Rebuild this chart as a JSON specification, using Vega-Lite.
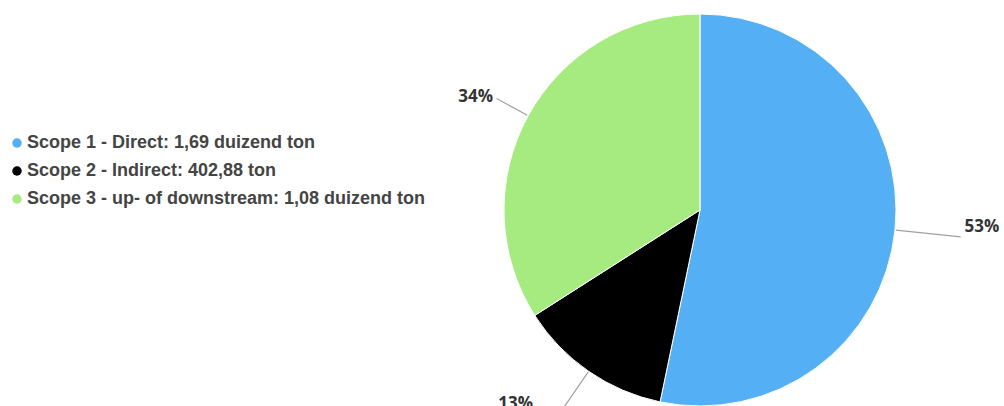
{
  "$schema": "https://vega.github.io/schema/vega-lite/v6.json",
  "width": 608,
  "height": 392,
  "autosize": {"type": "none"},
  "padding": {"left": 396, "top": 14, "right": 0, "bottom": 0},
  "background": "white",
  "config": {"view": {"stroke": null}},
  "data": {
    "values": [
      {"idx": 1, "scope": "Scope 1 - Direct: 1,69 duizend ton", "value": 1690, "pct": "53%"},
      {"idx": 2, "scope": "Scope 2 - Indirect: 402,88 ton", "value": 402.88, "pct": "13%"},
      {"idx": 3, "scope": "Scope 3 - up- of downstream: 1,08 duizend ton", "value": 1080, "pct": "34%"}
    ]
  },
  "layer": [
    {
      "mark": {"type": "arc", "stroke": "white", "strokeWidth": 1},
      "encoding": {
        "theta": {"field": "value", "type": "quantitative", "stack": true},
        "order": {"field": "idx", "type": "quantitative"},
        "color": {
          "field": "scope",
          "type": "nominal",
          "scale": {
            "domain": [
              "Scope 1 - Direct: 1,69 duizend ton",
              "Scope 2 - Indirect: 402,88 ton",
              "Scope 3 - up- of downstream: 1,08 duizend ton"
            ],
            "range": ["#55aff5", "#000000", "#a5eb80"]
          },
          "legend": {
            "orient": "none",
            "legendX": -388,
            "legendY": 120,
            "title": null,
            "padding": 0,
            "labelFont": "Liberation Sans",
            "labelFontSize": 18,
            "labelFontWeight": "bold",
            "labelColor": "#444444",
            "labelLimit": 600,
            "labelOffset": 1,
            "symbolType": "circle",
            "symbolSize": 90,
            "symbolStrokeWidth": 0,
            "rowPadding": 10,
            "encode": {
              "symbols": {
                "update": {
                  "fill": {"signal": "datum.value == 'Scope 1 - Direct: 1,69 duizend ton' ? '#7cb5ec' : (datum.value == 'Scope 2 - Indirect: 402,88 ton' ? '#434348' : '#90ed7d')"},
                  "opacity": {"value": 1}
                }
              }
            }
          }
        }
      }
    },
    {
      "transform": [
        {"stack": "value", "groupby": [], "sort": [{"field": "idx"}], "as": ["s", "e"]},
        {"fold": ["s", "e"], "as": ["k", "v"]},
        {"aggregate": [{"op": "mean", "field": "v", "as": "mid"}], "groupby": ["scope", "pct"]}
      ],
      "encoding": {
        "theta": {"field": "mid", "type": "quantitative", "stack": null}
      },
      "layer": [
        {
          "transform": [{"filter": "datum.pct == '53%'"}],
          "mark": {"type": "arc", "radius": 197, "radius2": 262, "filled": false, "stroke": "#a0a0a0", "strokeWidth": 1.2},
          "encoding": {"theta2": {"field": "mid"}}
        },
        {
          "transform": [{"filter": "datum.pct == '34%'"}],
          "mark": {"type": "arc", "radius": 197, "radius2": 232, "filled": false, "stroke": "#a0a0a0", "strokeWidth": 1.2},
          "encoding": {"theta2": {"field": "mid"}}
        },
        {
          "transform": [{"filter": "datum.pct == '13%'"}],
          "mark": {"type": "arc", "radius": 197, "radius2": 255, "filled": false, "stroke": "#a0a0a0", "strokeWidth": 1.2},
          "encoding": {"theta2": {"field": "mid"}}
        },
        {
          "transform": [{"filter": "datum.pct == '53%'"}],
          "mark": {"type": "text", "radius": 266, "align": "left", "baseline": "middle", "dy": -10, "font": "Open Sans", "fontSize": 17, "fontWeight": "bold", "color": "#333333"},
          "encoding": {"text": {"field": "pct"}}
        },
        {
          "transform": [{"filter": "datum.pct == '34%'"}],
          "mark": {"type": "text", "radius": 236, "align": "right", "baseline": "middle", "font": "Open Sans", "fontSize": 17, "fontWeight": "bold", "color": "#333333"},
          "encoding": {"text": {"field": "pct"}}
        },
        {
          "transform": [{"filter": "datum.pct == '13%'"}],
          "mark": {"type": "text", "radius": 236, "align": "right", "baseline": "middle", "dx": -33, "font": "Open Sans", "fontSize": 17, "fontWeight": "bold", "color": "#333333"},
          "encoding": {"text": {"field": "pct"}}
        }
      ]
    }
  ]
}
